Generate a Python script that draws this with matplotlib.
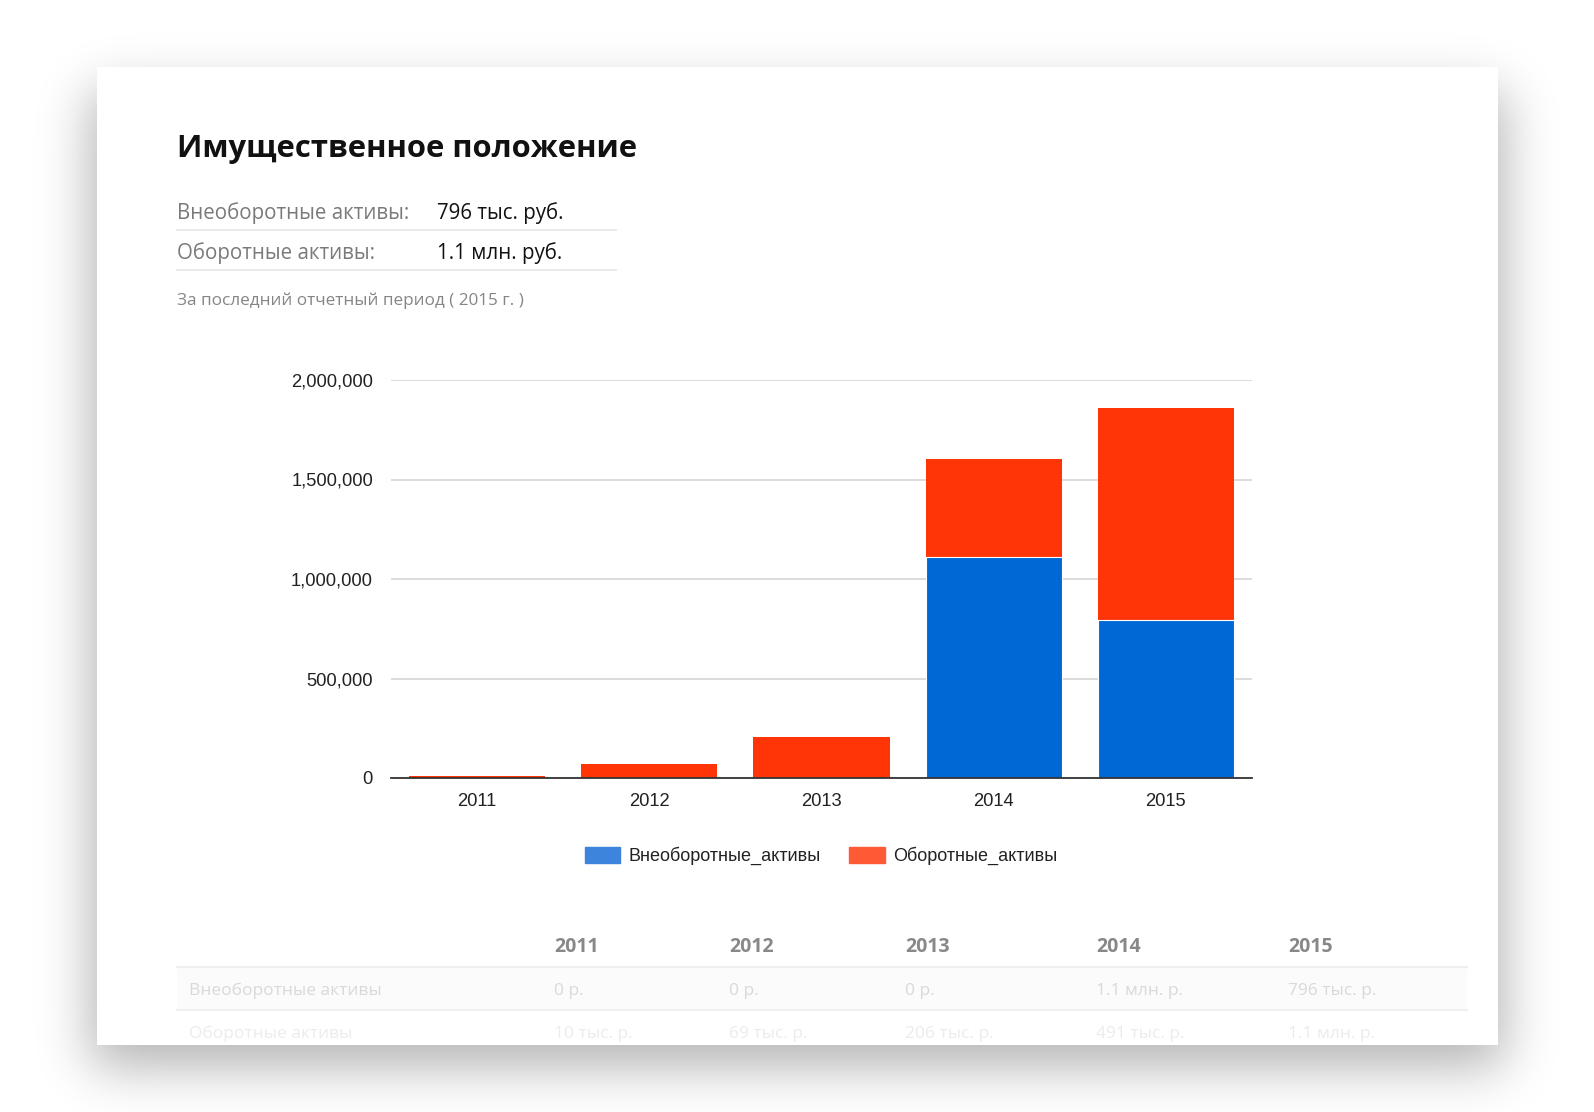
import numpy as np
import matplotlib
matplotlib.use("Agg")
import matplotlib.pyplot as plt
from matplotlib.patches import Rectangle, Patch
from matplotlib.ticker import FuncFormatter

years = ["2011", "2012", "2013", "2014", "2015"]
non_current = [0, 0, 0, 1112000, 796000]
current = [10000, 69000, 206000, 491000, 1061000]

table_rows = ["Внеоборотные активы", "Оборотные активы"]
table_values = [
    ["0 р.", "0 р.", "0 р.", "1.1 млн. р.", "796 тыс. р."],
    ["10 тыс. р.", "69 тыс. р.", "206 тыс. р.", "491 тыс. р.", "1.1 млн. р."],
]
summary_labels = ["Внеоборотные активы:", "Оборотные активы:"]
summary_values = ["796 тыс. руб.", "1.1 млн. руб."]

BLUE = "#0068d4"
RED = "#ff3508"
W, H = 1594, 1112

fig = plt.figure(figsize=(W / 100, H / 100), dpi=100)

# фон страницы: тень и карточка (координаты в пикселях)
bg = fig.add_axes([0, 0, 1, 1], zorder=0)
bg.set_xlim(0, W)
bg.set_ylim(H, 0)
bg.axis("off")

cx0, cx1, cy0, cy1 = 97, 1498, 67, 1045


def blur1d(n, a, b, sigma):
    ind = np.zeros(n)
    ind[a:b] = 1.0
    k = np.arange(-3 * sigma, 3 * sigma + 1)
    g = np.exp(-k ** 2 / (2 * sigma ** 2))
    g /= g.sum()
    return np.convolve(ind, g, mode="same")


sy = blur1d(H, cy0 + 24, cy1 + 22, 26)
sx = blur1d(W, cx0 - 6, cx1 + 6, 26)
shadow = np.zeros((H, W, 4))
shadow[..., 3] = 0.3 * np.outer(sy, sx)
bg.imshow(shadow, extent=(0, W, H, 0), zorder=0, interpolation="bilinear")
card = Rectangle((cx0, cy0), cx1 - cx0, cy1 - cy0, facecolor="white",
                 edgecolor="none", zorder=1)
bg.add_patch(card)

OS = "Open Sans"
bg.text(177, 149, "Имущественное положение", family=OS, weight="bold",
        fontsize=22.3, color="#111111", va="center", zorder=3)
for i, (lab, val) in enumerate(zip(summary_labels, summary_values)):
    y = 213 + i * 40
    bg.text(177, y, lab, family=OS, fontsize=14.8, color="#7a7a7a",
            va="center", zorder=3)
    bg.text(437, y, val, family=OS, fontsize=14.8, color="#111111",
            va="center", zorder=3)
    bg.plot([177, 616], [y + 17, y + 17], color="#e6e6e6", lw=1.2, zorder=2)
bg.text(177, 301, "За последний отчетный период ( 2015 г. )", family=OS,
        fontsize=12.3, color="#858585", va="center", zorder=3)

# таблица под графиком
col_x = [554, 729, 905, 1096, 1288]
for x, yr in zip(col_x, years):
    bg.text(x, 947, yr, family=OS, weight="bold", fontsize=14,
            color="#888888", va="center", zorder=3)
bg.add_patch(Rectangle((177, 967), 1290, 43, facecolor="#fbfbfb",
                       edgecolor="none", zorder=2))
bg.plot([177, 1467], [967, 967], color="#eeeeee", lw=1.5, zorder=2)
bg.plot([177, 1467], [1010, 1010], color="#f0f0f0", lw=1.5, zorder=2)
row_colors = ["#d9d9d9", "#ececec"]
for r, (name, vals) in enumerate(zip(table_rows, table_values)):
    y = 991 + r * 43
    t = bg.text(189, y, name, family=OS, fontsize=12.5, color=row_colors[r],
                va="center", zorder=3)
    t.set_clip_path(card)
    for x, v in zip(col_x, vals):
        t = bg.text(x, y, v, family=OS, fontsize=12.5, color=row_colors[r],
                    va="center", zorder=3)
        t.set_clip_path(card)

# столбчатая диаграмма
ax = fig.add_axes([391 / W, 1 - 778 / H, 861 / W, 398 / H], zorder=2)
ax.patch.set_alpha(0)
xpos = np.arange(len(years))
blue_edges = ["white" if v > 0 else "none" for v in non_current]
ax.bar(xpos, current, bottom=non_current, width=0.79, color=RED,
       linewidth=0, zorder=3)
ax.bar(xpos, non_current, width=0.79, color=BLUE, edgecolor=blue_edges,
       linewidth=0.8, zorder=3.5)
ax.set_xlim(-0.5, len(years) - 0.5)
ax.set_ylim(0, 2000000)
ax.set_yticks([0, 500000, 1000000, 1500000, 2000000])
ax.yaxis.set_major_formatter(FuncFormatter(lambda v, p: f"{int(v):,}"))
ax.set_xticks(xpos)
ax.set_xticklabels(years)
ax.grid(axis="y", color="#d6d6d6", lw=1.2, zorder=0)
for s in ["top", "right", "left"]:
    ax.spines[s].set_visible(False)
ax.spines["bottom"].set_color("#333333")
ax.spines["bottom"].set_linewidth(1.3)
ax.spines["bottom"].set_zorder(4)
ax.tick_params(length=0, labelsize=13.2, labelcolor="#222222")
ax.tick_params(axis="y", pad=13)
ax.tick_params(axis="x", pad=11)
for lab in ax.get_xticklabels() + ax.get_yticklabels():
    lab.set_family("Liberation Sans")

handles = [Patch(color="#3c84dc", label="Внеоборотные_активы"),
           Patch(color="#ff5a36", label="Оборотные_активы")]
fig.legend(handles=handles, loc="center", bbox_to_anchor=(0.515, 1 - 856 / H),
           ncol=2, frameon=False, prop={"family": "Liberation Sans", "size": 13},
           handlelength=1.95, handleheight=0.95, handletextpad=0.45,
           columnspacing=1.6, labelcolor="#222222")

fig.savefig("out.png", dpi=100, facecolor="white")
